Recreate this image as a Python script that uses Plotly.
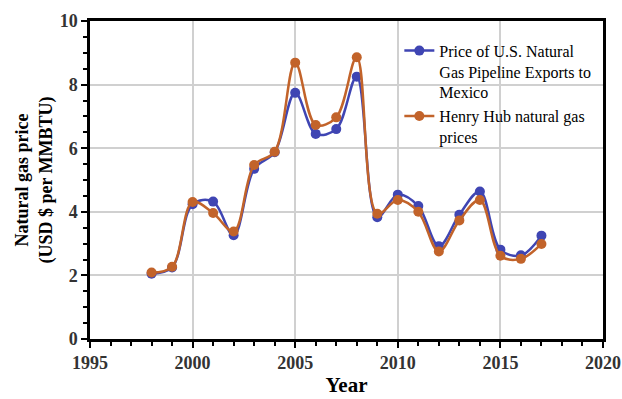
import plotly.graph_objects as go

years = list(range(1998, 2018))
mexico_exports = [2.05, 2.25, 4.24, 4.32, 3.26, 5.35, 5.87, 7.74, 6.45, 6.60, 8.25,
                  3.83, 4.54, 4.18, 2.92, 3.91, 4.64, 2.81, 2.63, 3.25]
henry_hub = [2.09, 2.27, 4.31, 3.96, 3.38, 5.47, 5.89, 8.69, 6.73, 6.97, 8.86,
             3.94, 4.37, 4.00, 2.75, 3.73, 4.37, 2.62, 2.52, 2.99]

blue = "#3F45B3"
orange = "#C2632A"
font_family = "Liberation Serif"

fig = go.Figure()
fig.add_trace(go.Scatter(
    x=years, y=mexico_exports, mode="lines+markers",
    name="Price of U.S. Natural<br>Gas Pipeline Exports to<br>Mexico",
    line=dict(color=blue, width=2.5, shape="spline", smoothing=1.0),
    marker=dict(color=blue, size=10),
))
fig.add_trace(go.Scatter(
    x=years, y=henry_hub, mode="lines+markers",
    name="Henry Hub natural gas<br>prices",
    line=dict(color=orange, width=2.5, shape="spline", smoothing=1.0),
    marker=dict(color=orange, size=10),
))

fig.update_layout(
    width=622, height=399,
    margin=dict(l=90, r=19, t=21, b=60),
    paper_bgcolor="white", plot_bgcolor="white",
    font=dict(family=font_family, color="black"),
    showlegend=True,
    legend=dict(
        x=0.603, y=0.96, xanchor="left", yanchor="top",
        valign="top",
        bgcolor="rgba(255,255,255,0)",
        font=dict(family=font_family, size=16, color="black"),
        tracegroupgap=2,
    ),
)
fig.update_xaxes(
    range=[1995, 2020], tick0=1995, dtick=5,
    automargin=False,
    showgrid=True, gridcolor="#d0d0d0", gridwidth=1.5,
    showline=True, linecolor="black", linewidth=2.5, mirror=True,
    ticks="outside", ticklen=6, tickwidth=2, tickcolor="black",
    minor=dict(ticks="outside", dtick=1, ticklen=4, tickwidth=2, tickcolor="black", showgrid=False),
    tickfont=dict(family=font_family, size=18, color="#333", weight="bold"),
    title=dict(text="<b>Year</b>", font=dict(family=font_family, size=21, color="black"), standoff=5),
    zeroline=False,
)
fig.update_yaxes(
    range=[0, 10], dtick=2,
    automargin=False,
    showgrid=True, gridcolor="#d0d0d0", gridwidth=1.5,
    showline=True, linecolor="black", linewidth=2.5, mirror=True,
    ticks="outside", ticklen=6, tickwidth=2, tickcolor="black",
    minor=dict(ticks="outside", dtick=0.5, ticklen=4, tickwidth=2, tickcolor="black", showgrid=False),
    tickfont=dict(family=font_family, size=18, color="#333", weight="bold"),
    title=dict(text="<b>Natural gas price<br>(USD $ per MMBTU)</b>",
               font=dict(family=font_family, size=18, color="black"), standoff=3),
    zeroline=False,
)

fig.write_html("out.html")
